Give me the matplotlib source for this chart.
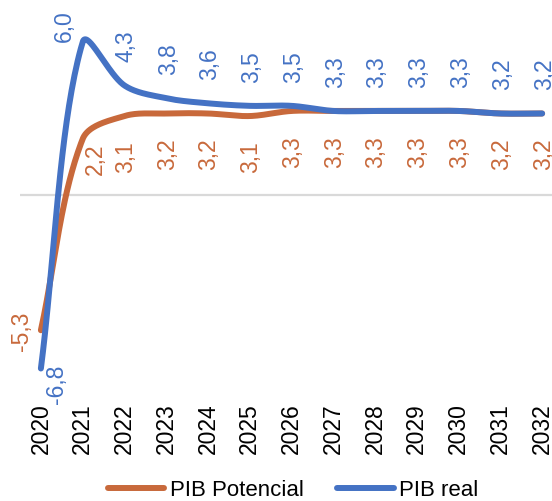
import numpy as np
import matplotlib
matplotlib.use("Agg")
import matplotlib.pyplot as plt

plt.rcParams['font.family'] = ['Liberation Sans', 'DejaVu Sans']

years = [2020, 2021, 2022, 2023, 2024, 2025, 2026, 2027, 2028, 2029, 2030, 2031, 2032]
pib_potencial = [-5.3, 2.2, 3.1, 3.2, 3.2, 3.1, 3.3, 3.3, 3.3, 3.3, 3.3, 3.2, 3.2]
pib_real = [-6.8, 6.0, 4.3, 3.8, 3.6, 3.5, 3.5, 3.3, 3.3, 3.3, 3.3, 3.2, 3.2]

ORANGE = '#C8693B'
BLUE = '#4472C4'


def smooth(ax, x, y, n=40):
    """Smoothed line built from cubic Bezier segments; the tangent at each point
    is split between its two segments in proportion to their on-screen lengths."""
    pts_data = np.column_stack([np.asarray(x, float), np.asarray(y, float)])
    tr = ax.transData
    pts = tr.transform(pts_data)
    m = len(pts)
    out = []
    for i in range(m - 1):
        p1, p2 = pts[i], pts[i + 1]
        # outgoing control of p1
        if i > 0:
            p0 = pts[i - 1]
            d_in = np.hypot(*(p1 - p0))
            d_out = np.hypot(*(p2 - p1))
            c1 = p1 + (p2 - p0) / 3.0 * d_out / (d_in + d_out)
        else:
            c1 = p1 + (p2 - p1) / 3.0
        # incoming control of p2
        if i + 2 < m:
            p3 = pts[i + 2]
            d_in = np.hypot(*(p2 - p1))
            d_out = np.hypot(*(p3 - p2))
            c2 = p2 - (p3 - p1) / 3.0 * d_in / (d_in + d_out)
        else:
            c2 = p2 - (p2 - p1) / 3.0
        t = np.linspace(0, 1, n)[:, None]
        seg = ((1 - t) ** 3) * p1 + 3 * ((1 - t) ** 2) * t * c1 + 3 * (1 - t) * t ** 2 * c2 + t ** 3 * p2
        out.append(seg if i == 0 else seg[1:])
    s = tr.inverted().transform(np.vstack(out))
    return s[:, 0], s[:, 1]


W, H = 552, 502
fig = plt.figure(figsize=(W / 100, H / 100), dpi=100)
left_px, right_px, top_px, bottom_px = 20, 563, 0, 395
ax = fig.add_axes([left_px / W, 1 - bottom_px / H, (right_px - left_px) / W, (bottom_px - top_px) / H])

ax.set_xlim(2019.5, 2032.5)
ax.set_ylim(-7.80, 7.69)

ax.axhline(0, color='#D9D9D9', lw=1.6, zorder=1)

xs, ys = smooth(ax, years, pib_potencial)
ax.plot(xs, ys, color=ORANGE, lw=4.3, solid_capstyle='round', label='PIB Potencial', zorder=3)
xs, ys = smooth(ax, years, pib_real)
ax.plot(xs, ys, color=BLUE, lw=4.3, solid_capstyle='round', label='PIB real', zorder=4)

fmt = lambda v: f"{v:.1f}".replace('.', ',')
k = 0.72  # pixels -> points at 100 dpi

# data labels: orange below the line, blue above
for i, (yr, v) in enumerate(zip(years, pib_potencial)):
    if i == 0:
        dx, dy = -19, 0
    elif i == 1:
        dx, dy = 13, -19
    else:
        dx, dy = 1, -40
    ax.annotate(fmt(v), (yr, v), xytext=(dx * k, dy * k), textcoords='offset points',
                rotation=90, ha='center', va='center', color=ORANGE, fontsize=16.5)

for i, (yr, v) in enumerate(zip(years, pib_real)):
    if i == 0:
        dx, dy = 16, -15
    elif i == 1:
        dx, dy = -18, 17
    else:
        dx, dy = 2, 40
    ax.annotate(fmt(v), (yr, v), xytext=(dx * k, dy * k), textcoords='offset points',
                rotation=90, ha='center', va='center', color=BLUE, fontsize=16.5)

ax.set_xticks(years)
ax.set_xticklabels([str(y) for y in years], rotation=90, fontsize=16.5, color='#000000')
ax.tick_params(axis='x', length=0, pad=6)
ax.set_yticks([])
for s in ax.spines.values():
    s.set_visible(False)

fig.legend(loc='center', bbox_to_anchor=(293 / W, 1 - 491 / H), ncol=2, frameon=False,
           fontsize=16, handlelength=2.55, handletextpad=0.25, columnspacing=1.5,
           borderaxespad=0, borderpad=0)

fig.savefig('out.png', dpi=100)
